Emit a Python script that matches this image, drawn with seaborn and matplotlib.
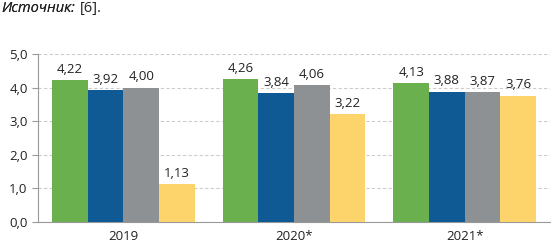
import pandas as pd
import matplotlib.pyplot as plt
import seaborn as sns
from matplotlib.ticker import FuncFormatter, FixedLocator

sns.set_style("white")
plt.rcParams["font.family"] = ["Open Sans", "DejaVu Sans"]

years = ["2019", "2020*", "2021*"]
series = ["s1", "s2", "s3", "s4"]
s1 = [4.22, 4.26, 4.13]
s2 = [3.92, 3.84, 3.88]
s3 = [4.00, 4.06, 3.87]
s4 = [1.13, 3.22, 3.76]
colors = ["#6AB04E", "#0F5A95", "#8E9194", "#FDD46B"]

df = pd.DataFrame({
    "year": years * 4,
    "series": [s for s in series for _ in years],
    "value": s1 + s2 + s3 + s4,
})

fig = plt.figure(figsize=(5.51, 2.45), dpi=100)
ax = fig.add_axes([0.069, 0.094, 0.929, 0.686])

sns.barplot(data=df, x="year", y="value", hue="series", palette=colors,
            width=0.835, gap=0, saturation=1, legend=False, ax=ax, zorder=3,
            linewidth=0, edgecolor="none")

for cont in ax.containers:
    ax.bar_label(cont, labels=[f"{v:.2f}".replace(".", ",") for v in cont.datavalues],
                 padding=3, fontsize=9.5, color="#222222")

ax.set_ylim(0, 5)
ax.set_xlim(-0.5, 2.5)
ax.set_yticks([0, 1, 2, 3, 4, 5])
ax.yaxis.set_major_formatter(FuncFormatter(lambda v, p: f"{v:.1f}".replace(".", ",")))
ax.yaxis.grid(True, linestyle=(0, (3, 2)), color="#cccccc", linewidth=0.8)
ax.set_axisbelow(True)

ax.xaxis.set_minor_locator(FixedLocator([0.5, 1.5, 2.5]))
ax.tick_params(axis="x", which="major", length=0, labelsize=9.5, pad=6, colors="#222222")
ax.tick_params(axis="x", which="minor", length=4, color="#999999", direction="out")
ax.tick_params(axis="y", length=4, color="#999999", labelcolor="#222222", labelsize=9.5, left=True)

for side in ["top", "right"]:
    ax.spines[side].set_visible(False)
for side in ["left", "bottom"]:
    ax.spines[side].set_color("#999999")
    ax.spines[side].set_linewidth(0.8)

ax.set_xlabel("")
ax.set_ylabel("")

t1 = fig.text(0.003, 0.965, "Источник:", fontstyle="italic", fontsize=10.5,
              va="center", color="#222222")
fig.add_artist(t1)
ax.annotate("[6].", xy=(1, 0.5), xycoords=t1, xytext=(3, 0), textcoords="offset points",
            va="center", fontsize=10.5, color="#222222", annotation_clip=False)

fig.savefig("out.png", dpi=100)
